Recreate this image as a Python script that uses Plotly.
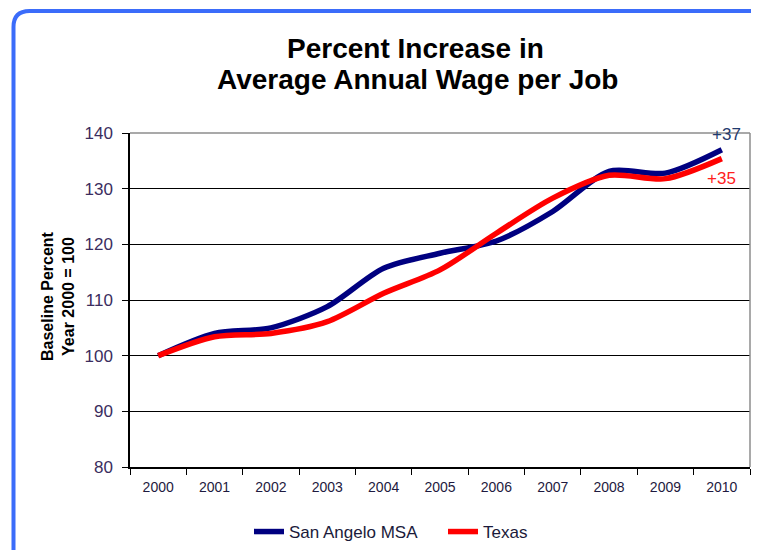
import plotly.graph_objects as go

years = ["2000", "2001", "2002", "2003", "2004", "2005", "2006", "2007", "2008", "2009", "2010"]
san_angelo = [100, 104.0, 105.0, 108.8, 115.7, 118.4, 120.6, 125.9, 133.1, 132.8, 137.0]
texas = [100, 103.4, 104.0, 106.1, 111.2, 115.4, 122.0, 128.3, 132.4, 131.8, 135.4]
series_names = ["San Angelo MSA", "Texas"]
end_labels = ["+37", "+35"]
title_lines = ["Percent Increase in", "Average Annual Wage per Job"]

OFF = 8  # page body margin
W, H = 759 - OFF, 550 - OFF
ML, MR, MT, MB = 130 - OFF, 9, 133 - OFF, 83


def px(x):
    return (x - OFF - ML) / (W - ML - MR)


def py(y):
    return (H - MB - (y - OFF)) / (H - MT - MB)


FONT = "Arial, Liberation Sans, sans-serif"

fig = go.Figure()
fig.add_trace(go.Scatter(x=years, y=san_angelo, name=series_names[0], mode="lines",
                         line=dict(color="#000080", width=5.5, shape="spline", smoothing=0.8)))
fig.add_trace(go.Scatter(x=years, y=texas, name=series_names[1], mode="lines",
                         line=dict(color="#FF0000", width=5.5, shape="spline", smoothing=0.8)))

# rounded blue frame
x0, x1, y0, y1, r = 13.5, 775, 11, 570, 16
path = (f"M {px(x0)},{py(y0 + r)} Q {px(x0)},{py(y0)} {px(x0 + r)},{py(y0)} "
        f"L {px(x1 - r)},{py(y0)} Q {px(x1)},{py(y0)} {px(x1)},{py(y0 + r)} "
        f"L {px(x1)},{py(y1 - r)} Q {px(x1)},{py(y1)} {px(x1 - r)},{py(y1)} "
        f"L {px(x0 + r)},{py(y1)} Q {px(x0)},{py(y1)} {px(x0)},{py(y1 - r)} Z")
shapes = [
    dict(type="path", xref="paper", yref="paper", path=path,
         line=dict(color="#3B6CFA", width=4), layer="below"),
    dict(type="line", xref="paper", yref="paper", x0=0, x1=1, y0=1, y1=1,
         line=dict(color="#8C8C8C", width=1.5)),
    dict(type="line", xref="paper", yref="paper", x0=1, x1=1, y0=0, y1=1,
         line=dict(color="#8C8C8C", width=1.5)),
]

annotations = [
    dict(text=f"<b>{title_lines[0]}</b>", xref="paper", yref="paper",
         x=px(415), y=py(48), xanchor="center", yanchor="middle", showarrow=False,
         font=dict(family=FONT, size=28, color="#000000")),
    dict(text=f"<b>{title_lines[1]}</b>", xref="paper", yref="paper",
         x=px(417), y=py(80), xanchor="center", yanchor="middle", showarrow=False,
         font=dict(family=FONT, size=28, color="#000000")),
    dict(text="<b>Baseline Percent<br>Year 2000 = 100</b>", xref="paper", yref="paper",
         x=px(58), y=py(296), xanchor="center", yanchor="middle", showarrow=False, textangle=-90,
         font=dict(family=FONT, size=16, color="#000000")),
    dict(text=end_labels[0], x=10.09, y=139.7, xref="x", yref="y", showarrow=False,
         xanchor="center", yanchor="middle", font=dict(family=FONT, size=17, color="#1F3A6E")),
    dict(text=end_labels[1], x=10.0, y=131.8, xref="x", yref="y", showarrow=False,
         xanchor="center", yanchor="middle", font=dict(family=FONT, size=17, color="#FF2020")),
]

fig.update_layout(
    width=W, height=H,
    margin=dict(l=ML, r=MR, t=MT, b=MB, autoexpand=False),
    paper_bgcolor="white", plot_bgcolor="white",
    font=dict(family=FONT, size=14, color="#2a2050"),
    showlegend=True,
    legend=dict(orientation="h", xref="container", yref="container",
                x=(249 - OFF) / W, y=(H - (532 - OFF)) / H, xanchor="left", yanchor="middle",
                font=dict(family=FONT, size=17, color="#1a1a3a"), itemwidth=30,
                entrywidth=149, entrywidthmode="pixels"),
    shapes=shapes,
    annotations=annotations,
    xaxis=dict(type="category", range=[-0.5, 10.5], showgrid=False, showline=True,
               linecolor="#000000", linewidth=1.5, ticks="outside", ticklen=6,
               tickcolor="#000000", tickson="boundaries", ticklabelstandoff=6, automargin=False,
               tickfont=dict(family=FONT, size=14, color="#1e1a40"), zeroline=False),
    yaxis=dict(range=[80, 140], dtick=10, showgrid=True, gridcolor="#000000", gridwidth=1,
               showline=True, linecolor="#000000", linewidth=1.5, ticks="outside", ticklen=6,
               tickcolor="#000000", ticklabelstandoff=6, automargin=False,
               tickfont=dict(family=FONT, size=17, color="#3b2d5e"),
               zeroline=False),
)

fig.write_html("out.html")
